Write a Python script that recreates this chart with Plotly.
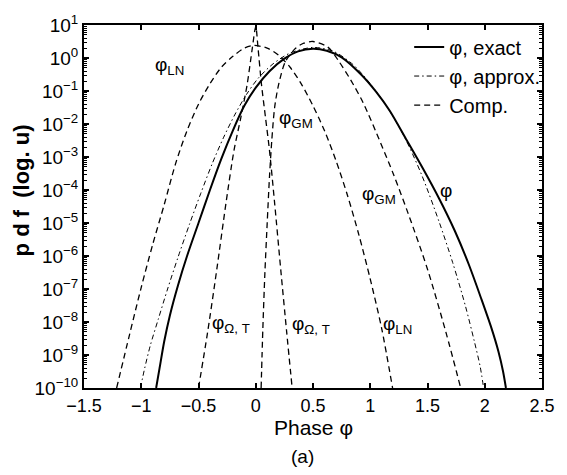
import numpy as np
import plotly.graph_objects as go

# ---- data (x = phase, values = log10 of pdf) ----
exact_x = [-0.87, -0.84, -0.8, -0.75, -0.68, -0.6, -0.5, -0.4, -0.3, -0.2, -0.1, 0.0, 0.12, 0.25,
           0.37, 0.5, 0.62, 0.75, 0.92, 1.05, 1.17, 1.32, 1.46, 1.6, 1.74, 1.86, 1.97, 2.06, 2.12,
           2.16, 2.185]
exact_log = [-10, -9.4, -8.6, -7.8, -6.9, -6.0, -5.0, -4.0, -3.05, -2.2, -1.45, -0.9, -0.4, -0.02,
             0.2, 0.28, 0.22, 0.02, -0.5, -1.02, -1.6, -2.5, -3.35, -4.25, -5.25, -6.25, -7.3, -8.2, -8.9,
             -9.5, -10]

approx_x = [-1.007, -0.97, -0.92, -0.85, -0.77, -0.68, -0.58, -0.48, -0.38, -0.28, -0.18, -0.08,
            0.02, 0.15, 0.3, 0.5, 0.68, 0.85, 1.0, 1.15, 1.3, 1.45, 1.6, 1.72, 1.83, 1.91, 1.96, 1.99]
approx_log = [-10, -9.4, -8.7, -7.9, -7.0, -6.05, -5.05, -4.1, -3.2, -2.4, -1.7, -1.1,
              -0.62, -0.18, 0.15, 0.32, 0.2, -0.2, -0.78, -1.5, -2.4, -3.55, -4.95, -6.2, -7.5, -8.6,
              -9.35, -10]

ln_x = [-1.215, -1.1, -1.0, -0.9, -0.8, -0.7, -0.6, -0.5, -0.4, -0.3, -0.2, -0.1, -0.02, 0.1, 0.2,
        0.3, 0.4, 0.5, 0.6, 0.7, 0.8, 0.9, 1.0, 1.1, 1.195]
ln_log = [-10, -8.35, -6.95, -5.65, -4.45, -3.2, -2.2, -1.4, -0.78, -0.28, 0.05, 0.3, 0.38, 0.3, 0.08,
          -0.28, -0.8, -1.45, -2.2, -3.1, -4.15, -5.35, -6.7, -8.2, -10]

gm_x = [0.047, 0.062, 0.08, 0.1, 0.12, 0.14, 0.165, 0.2, 0.26, 0.35, 0.42, 0.5, 0.63, 0.72, 0.83,
        0.94, 1.09, 1.2, 1.33, 1.5, 1.66, 1.79]
gm_log = [-10, -8.2, -6.5, -5.0, -3.6, -2.5, -1.5, -0.8, -0.1, 0.3, 0.45, 0.5, 0.33, -0.07, -0.67,
          -1.37, -2.57, -3.5, -4.7, -6.4, -8.3, -10]

wt_x = [-0.5, -0.42, -0.34, -0.26, -0.19, -0.13, -0.075, -0.03, 0.0, 0.02, 0.05, 0.085, 0.12,
        0.165, 0.218, 0.27, 0.318]
wt_log = [-10, -8.3, -6.4, -4.4, -2.8, -1.8, -0.8, 0.3, 0.95, 0.3, -0.8, -1.8, -2.8,
          -4.4, -6.4, -8.3, -10]

x_ticks = [-1.5, -1, -0.5, 0, 0.5, 1, 1.5, 2, 2.5]
x_ticktext = ["\u22121.5", "\u22121", "\u22120.5", "0", "0.5", "1", "1.5", "2", "2.5"]
y_exps = [1, 0, -1, -2, -3, -4, -5, -6, -7, -8, -9, -10]
minor_digits = [2, 3, 4, 5, 6, 7, 8, 9]

# label texts and positions (x, log10 y)
lab_text = ["\u03c6<sub>LN</sub>", "\u03c6<sub>GM</sub>", "\u03c6<sub>GM</sub>", "\u03c6",
            "\u03c6<sub>\u03a9, T</sub>", "\u03c6<sub>\u03a9, T</sub>", "\u03c6<sub>LN</sub>"]
lab_x = [-0.75, 0.35, 1.08, 1.66, -0.22, 0.48, 1.24]
lab_log = [-0.25, -1.85, -4.15, -4.0, -8.05, -8.1, -8.1]

FONT = "Liberation Sans, Arial, sans-serif"
XR = [-1.5, 2.5]
YR = [-10, 1]

fig = go.Figure()
fig.add_trace(go.Scatter(x=exact_x, y=10 ** np.array(exact_log, dtype=float), mode="lines",
                         line=dict(color="black", width=2, shape="spline", smoothing=0.8),
                         name="\u03c6, exact", legendgroup="a"))
fig.add_trace(go.Scatter(x=approx_x, y=10 ** np.array(approx_log, dtype=float), mode="lines",
                         line=dict(color="black", width=1, dash="5px,3px,1.5px,3px",
                                   shape="spline", smoothing=0.8),
                         name="\u03c6, approx.", legendgroup="b"))
comps = [(ln_x, ln_log), (gm_x, gm_log), (wt_x, wt_log)]
for i, (cx, cl) in enumerate(comps):
    fig.add_trace(go.Scatter(x=cx, y=10 ** np.array(cl, dtype=float), mode="lines",
                             line=dict(color="black", width=1.3, dash="6px,4px",
                                       shape="spline", smoothing=0.8),
                             name="Comp.", legendgroup="c", showlegend=(i == 0)))

for t, lx, ly in zip(lab_text, lab_x, lab_log):
    fig.add_annotation(x=lx, y=ly, xref="x", yref="y", text=t, showarrow=False,
                       xanchor="center", yanchor="middle",
                       font=dict(family=FONT, size=19, color="black"))

fig.add_annotation(x=0.5, y=-0.108, xref="paper", yref="paper", text="Phase \u03c6",
                   xanchor="center", yanchor="middle", borderpad=0,
                   showarrow=False, font=dict(family=FONT, size=21, color="black"))
fig.add_annotation(x=0.477, y=-0.19, xref="paper", yref="paper", text="(a)",
                   xanchor="center", yanchor="middle",
                   showarrow=False, font=dict(family=FONT, size=19, color="black"))
fig.add_annotation(x=-0.137, y=0.545, xref="paper", yref="paper", text="<b>p d f  (log. u)</b>",
                   xanchor="center", yanchor="middle",
                   textangle=-90, showarrow=False, font=dict(family=FONT, size=22, color="black"))

fig.update_layout(
    width=567, height=475,
    margin=dict(l=84, r=15, t=21, b=87),
    paper_bgcolor="white", plot_bgcolor="white",
    font=dict(family=FONT, size=18, color="black"),
    showlegend=True,
    legend=dict(x=0.71, y=0.993, xanchor="left", yanchor="top", bgcolor="rgba(0,0,0,0)",
                font=dict(family=FONT, size=20), traceorder="grouped", tracegroupgap=0),
    xaxis=dict(range=XR, tickmode="array", tickvals=x_ticks, ticktext=x_ticktext,
               ticks="inside", ticklen=5, tickwidth=1.5, tickcolor="#000000",
               showline=True, linewidth=2, linecolor="#000000", mirror="ticks",
               showgrid=False, zeroline=False, tickfont=dict(size=18)),
    yaxis=dict(type="log", range=YR, tickmode="array",
               tickvals=[10.0 ** e for e in y_exps],
               ticktext=["10<sup>" + str(e).replace("-", "\u2212") + "</sup>" for e in y_exps],
               ticks="inside", ticklen=5, tickwidth=1.5, tickcolor="#000000",
               showline=True, linewidth=2, linecolor="#000000", mirror="ticks",
               showgrid=False, zeroline=False, tickfont=dict(size=19),
               minor=dict(ticks="inside", ticklen=3, tickwidth=1, tickcolor="#000000",
                          tickmode="array",
                          tickvals=[d * 10.0 ** e for e in y_exps[1:] for d in minor_digits])),
)

fig.write_html("out.html")
